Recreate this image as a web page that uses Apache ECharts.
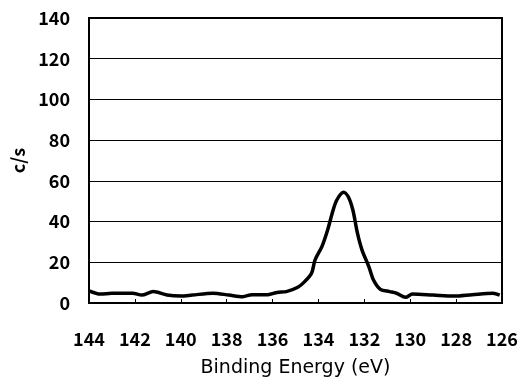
<!DOCTYPE html>
<html>
<head>
<meta charset="utf-8">
<script src="https://cdn.jsdelivr.net/npm/echarts@6/dist/echarts.min.js"></script>
<style>html,body{margin:0;padding:0;background:#fff;}#c{width:528px;height:386px;}</style>
</head>
<body>
<div id="c"></div>
<script>
const energy = [144.0,143.5,143.0,142.1,141.7,141.2,140.6,140.0,139.5,138.6,137.9,137.3,136.9,136.2,135.8,135.4,134.9,134.6,134.3,134.15,133.85,133.6,133.4,133.2,132.9,132.7,132.5,132.3,132.1,131.8,131.6,131.3,130.9,130.6,130.2,129.9,129.0,128.1,127.3,126.4,126.1];
const counts = [6.0,4.4,4.8,4.8,3.9,5.6,3.9,3.4,3.9,4.8,3.9,3.1,4.1,4.1,5.2,5.6,7.7,10.5,14.6,21.1,27.7,35.9,44.1,50.6,54.4,52.2,45.7,34.3,26.0,17.8,11.3,6.7,5.6,4.8,2.8,4.4,3.9,3.4,4.1,4.8,3.9];
const xTicks = [126,128,130,132,134,136,138,140,142,144];
const yTicks = [0,20,40,60,80,100,120,140];

const chart = echarts.init(document.getElementById('c'), null, {renderer:'canvas'});
const font = "'Noto Sans CJK JP', 'DejaVu Sans', sans-serif";
chart.setOption({
  backgroundColor:'#fff',
  animation:false,
  grid:{left:89,right:26,top:18,bottom:83,show:true,borderColor:'#000',borderWidth:2,backgroundColor:'transparent'},
  xAxis:{
    type:'value', inverse:true, min:126, max:144, interval:2,
    name:'Binding Energy (eV)', nameLocation:'middle', nameGap:56,
    nameTextStyle:{color:'#000',fontSize:19,fontFamily:"'DejaVu Sans', sans-serif",fontWeight:'normal'},
    axisLine:{show:true,lineStyle:{color:'#000',width:2}},
    axisTick:{show:true,inside:true,length:4,lineStyle:{color:'#000'}},
    axisLabel:{color:'#000',fontSize:18,fontWeight:'bold',fontFamily:font,margin:27,
      formatter:v=>xTicks.includes(v)?String(v):''},
    splitLine:{show:false}
  },
  yAxis:{
    type:'value', min:0, max:140, interval:20,
    name:'c/s', nameLocation:'middle', nameGap:60, nameRotate:90,
    nameTextStyle:{color:'#000',fontSize:18,fontFamily:font,fontWeight:'bold'},
    axisLine:{show:true,lineStyle:{color:'#000',width:2}},
    axisTick:{show:false},
    axisLabel:{color:'#000',fontSize:18,fontWeight:'bold',fontFamily:font,margin:19,
      formatter:v=>yTicks.includes(v)?String(v):''},
    splitLine:{show:true,lineStyle:{color:'#000',width:1}}
  },
  series:[{
    type:'line', data:energy.map((e,i)=>[e,counts[i]]),
    showSymbol:false, smooth:0.3,
    lineStyle:{color:'#000',width:3.5}
  }]
});
</script>
</body>
</html>
